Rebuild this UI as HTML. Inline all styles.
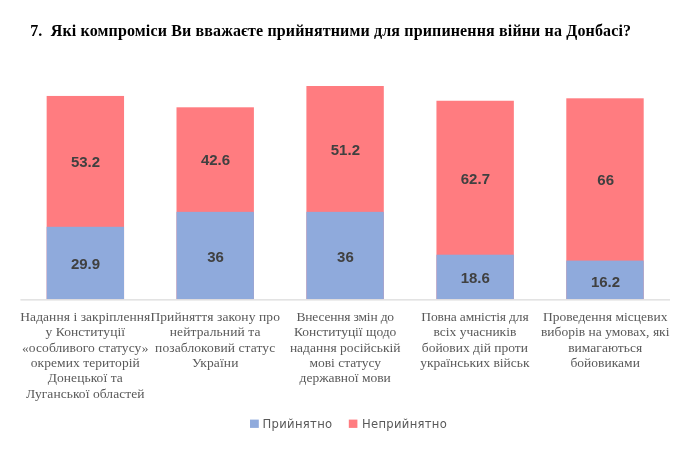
<!DOCTYPE html>
<html lang="uk">
<head>
<meta charset="utf-8">
<title>Chart</title>
<style>
html,body{margin:0;padding:0;background:#fff;}
body{width:690px;height:451px;position:relative;overflow:hidden;font-family:"Liberation Sans",sans-serif;}
.title{position:absolute;left:30.2px;top:21.4px;letter-spacing:0.14px;white-space:pre;font-family:"Liberation Serif",serif;font-weight:bold;font-size:16px;line-height:20px;color:#000;}
.chart{position:absolute;left:0;top:0;}
.val{position:absolute;width:78px;text-align:center;font-family:"Liberation Sans",sans-serif;font-weight:bold;font-size:15px;line-height:16px;color:#404040;}
.cat{position:absolute;top:308.6px;width:160px;text-align:center;font-family:"Liberation Serif",serif;font-size:13.5px;line-height:15.45px;letter-spacing:0.11px;color:#595959;white-space:nowrap;}
.lg{position:absolute;top:415px;font-family:"DejaVu Sans","Liberation Sans",sans-serif;font-size:11.6px;letter-spacing:0.3px;line-height:18px;color:#595959;white-space:nowrap;}
</style>
</head>
<body>
<div class="title">7.  Які компроміси Ви вважаєте прийнятними для припинення війни на Донбасі?</div>

<svg class="chart" width="690" height="451" viewBox="0 0 690 451">
<rect x="46.65" y="95.95" width="77.4" height="203.25" fill="#ff7c80"/>
<rect x="46.65" y="226.8" width="77.4" height="72.40" fill="#8faadc"/>
<rect x="176.5" y="107.3" width="77.4" height="191.90" fill="#ff7c80"/>
<rect x="176.5" y="211.85" width="77.4" height="87.35" fill="#8faadc"/>
<rect x="306.4" y="86.0" width="77.4" height="213.20" fill="#ff7c80"/>
<rect x="306.4" y="211.85" width="77.4" height="87.35" fill="#8faadc"/>
<rect x="436.45" y="100.75" width="77.4" height="198.45" fill="#ff7c80"/>
<rect x="436.45" y="254.7" width="77.4" height="44.50" fill="#8faadc"/>
<rect x="566.3" y="98.3" width="77.4" height="200.90" fill="#ff7c80"/>
<rect x="566.3" y="260.6" width="77.4" height="38.60" fill="#8faadc"/>
<rect x="20.4" y="299.2" width="649.6" height="1.3" fill="#dcdcdc"/>
<rect x="250" y="419.6" width="8.8" height="8.3" fill="#8faadc"/>
<rect x="348.8" y="419.6" width="8.6" height="8.3" fill="#ff7c80"/>
</svg>

<div class="val" style="left:46.5px;top:154.1px">53.2</div>
<div class="val" style="left:46.5px;top:255.9px">29.9</div>
<div class="val" style="left:176.5px;top:152.1px">42.6</div>
<div class="val" style="left:176.5px;top:248.7px">36</div>
<div class="val" style="left:306.4px;top:141.9px">51.2</div>
<div class="val" style="left:306.4px;top:248.8px">36</div>
<div class="val" style="left:436.4px;top:170.7px">62.7</div>
<div class="val" style="left:436.3px;top:270.2px">18.6</div>
<div class="val" style="left:566.7px;top:172.1px">66</div>
<div class="val" style="left:566.5px;top:273.6px">16.2</div>

<div class="cat" style="left:5.3px;letter-spacing:0.06px">Надання і закріплення<br>у Конституції<br>«особливого статусу»<br>окремих територій<br>Донецької та<br>Луганської областей</div>
<div class="cat" style="left:135.2px;letter-spacing:0.1px">Прийняття закону про<br>нейтральний та<br>позаблоковий статус<br>України</div>
<div class="cat" style="left:265.2px;letter-spacing:0"><span style="letter-spacing:-0.18px">Внесення змін до</span><br>Конституції щодо<br>надання російській<br>мові статусу<br>державної мови</div>
<div class="cat" style="left:394.9px;letter-spacing:0"><span style="letter-spacing:-0.16px">Повна амністія для</span><br>всіх учасників<br>бойових дій проти<br>українських військ</div>
<div class="cat" style="left:525.2px;letter-spacing:0.02px">Проведення місцевих<br>виборів на умовах, які<br>вимагаються<br>бойовиками</div>

<div class="lg" style="left:262.6px">Прийнятно</div>
<div class="lg" style="left:362px">Неприйнятно</div>
</body>
</html>
